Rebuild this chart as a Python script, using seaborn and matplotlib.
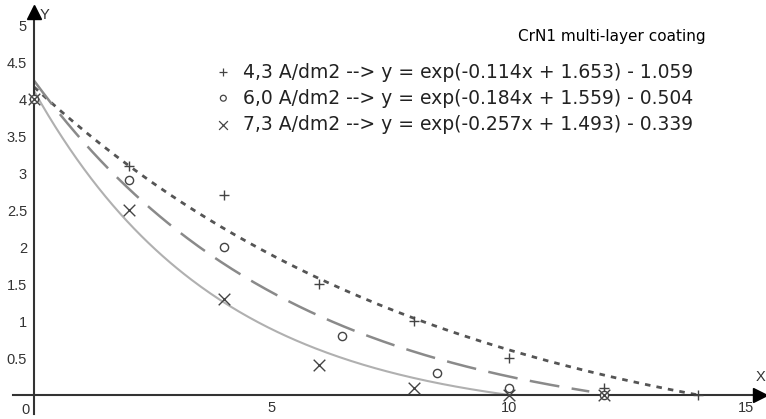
import numpy as np
import pandas as pd
import matplotlib
matplotlib.use("Agg")
import matplotlib.pyplot as plt
import seaborn as sns

# ---- data ----
series_names = ["4,3 A/dm2", "6,0 A/dm2", "7,3 A/dm2"]
x_43 = [0, 2, 4, 6, 8, 10, 12, 14]
y_43 = [4.0, 3.1, 2.7, 1.5, 1.0, 0.5, 0.1, 0.0]
x_60 = [0, 2, 4, 6.5, 8.5, 10, 12]
y_60 = [4.0, 2.9, 2.0, 0.8, 0.3, 0.1, 0.0]
x_73 = [0, 2, 4, 6, 8, 10, 12]
y_73 = [4.0, 2.5, 1.3, 0.4, 0.1, 0.0, 0.0]
# fitted models y = exp(a*x + b) - c
fit_a = [-0.114, -0.184, -0.257]
fit_b = [1.653, 1.559, 1.493]
fit_c = [1.059, 0.504, 0.339]
fit_xmax = [14.0, 11.7, 10.0]
x_ticks = [0, 5, 10, 15]
y_ticks = [0.5, 1, 1.5, 2, 2.5, 3, 3.5, 4, 4.5, 5]
y_ticklabels = ["0.5", "1", "1.5", "2", "2.5", "3", "3.5", "4", "4.5", "5"]
title = "CrN1 multi-layer coating"
legend_texts = ["4,3 A/dm2 --> y = exp(-0.114x + 1.653) - 1.059",
                "6,0 A/dm2 --> y = exp(-0.184x + 1.559) - 0.504",
                "7,3 A/dm2 --> y = exp(-0.257x + 1.493) - 0.339"]

sns.set_style("white")
plt.rcParams["font.family"] = ["Liberation Sans", "DejaVu Sans"]

fig = plt.figure(figsize=(7.66, 4.19), dpi=100)
ax = fig.add_axes([0.01645, 0.0131, 0.979, 0.966])

line_styles = [(0, (2, 2.2)), (0, (12, 5)), "-"]
line_colors = ["#555555", "#8a8a8a", "#b0b0b0"]
line_widths = [2.0, 1.8, 1.5]

for i in range(3):
    xs = np.linspace(0, fit_xmax[i], 200)
    ys = np.exp(fit_a[i] * xs + fit_b[i]) - fit_c[i]
    df = pd.DataFrame({"x": xs, "y": ys})
    sns.lineplot(data=df, x="x", y="y", ax=ax, color=line_colors[i],
                 linewidth=line_widths[i], linestyle=line_styles[i], zorder=2)

markers = ["+", "o", "x"]
mcolor = "#444444"
pts = [(x_43, y_43), (x_60, y_60), (x_73, y_73)]
sizes = [60, 35, 70]
for i, (xv, yv) in enumerate(pts):
    df = pd.DataFrame({"x": xv, "y": yv})
    if markers[i] == "o":
        sns.scatterplot(data=df, x="x", y="y", ax=ax, marker="o", s=sizes[i],
                        facecolors="white", edgecolor=mcolor, linewidth=1.0,
                        zorder=4, clip_on=False)
    else:
        sns.scatterplot(data=df, x="x", y="y", ax=ax, marker=markers[i], s=sizes[i],
                        color=mcolor, linewidth=1.0, zorder=4, clip_on=False)

ax.set_xlim(-0.45, 15.35)
ax.set_ylim(-0.25, 5.22)
ax.set_xlabel("")
ax.set_ylabel("")

for s in ["top", "right"]:
    ax.spines[s].set_visible(False)
for s in ["left", "bottom"]:
    ax.spines[s].set_position(("data", 0))
    ax.spines[s].set_color("#333333")
    ax.spines[s].set_linewidth(1.5)

ax.set_xticks(x_ticks)
ax.set_xticklabels(["", "5", "10", "15"])
ax.set_xticks(np.arange(1, 15), minor=True)
ax.set_yticks(y_ticks)
ax.set_yticklabels(y_ticklabels)
ax.tick_params(axis="both", which="both", direction="inout", length=6,
               width=1.3, color="#333333", labelsize=10.5, labelcolor="#333333")
ax.tick_params(axis="x", pad=1)
ax.tick_params(axis="y", pad=2)

# arrows
ax.plot([15.3], [0], marker=">", markersize=10, color="black", clip_on=False, zorder=5)
ax.plot([0], [5.17], marker="^", markersize=10, color="black", clip_on=False, zorder=5)
ax.annotate("0", xy=(0, 0), xytext=(-3, -6), textcoords="offset points",
            ha="right", va="top", fontsize=10.5, color="#333333")
ax.annotate("Y", xy=(0, 5.17), xytext=(4, -2), textcoords="offset points",
            ha="left", va="center", fontsize=10.5, color="#333333")
ax.annotate("X", xy=(15.3, 0), xytext=(0, 8), textcoords="offset points",
            ha="center", va="bottom", fontsize=10.5, color="#333333")

# title and legend
ax.text(0.9245, 0.9325, title, transform=ax.transAxes, ha="right", va="center",
        fontsize=11, color="black", family=["DejaVu Sans"])
leg_y = [0.8436, 0.779, 0.713]
leg_sizes = [40, 18, 40]
for i in range(3):
    ax.scatter([0.281], [leg_y[i]], transform=ax.transAxes, marker=markers[i],
               s=leg_sizes[i],
               facecolors="none" if markers[i] == "o" else mcolor,
               edgecolors=mcolor, linewidths=0.9, clip_on=False)
    ax.text(0.307, leg_y[i], legend_texts[i], transform=ax.transAxes,
            ha="left", va="center", fontsize=13.5, color="#222222",
            family=["DejaVu Sans"])

fig.savefig("out.png", dpi=100)
